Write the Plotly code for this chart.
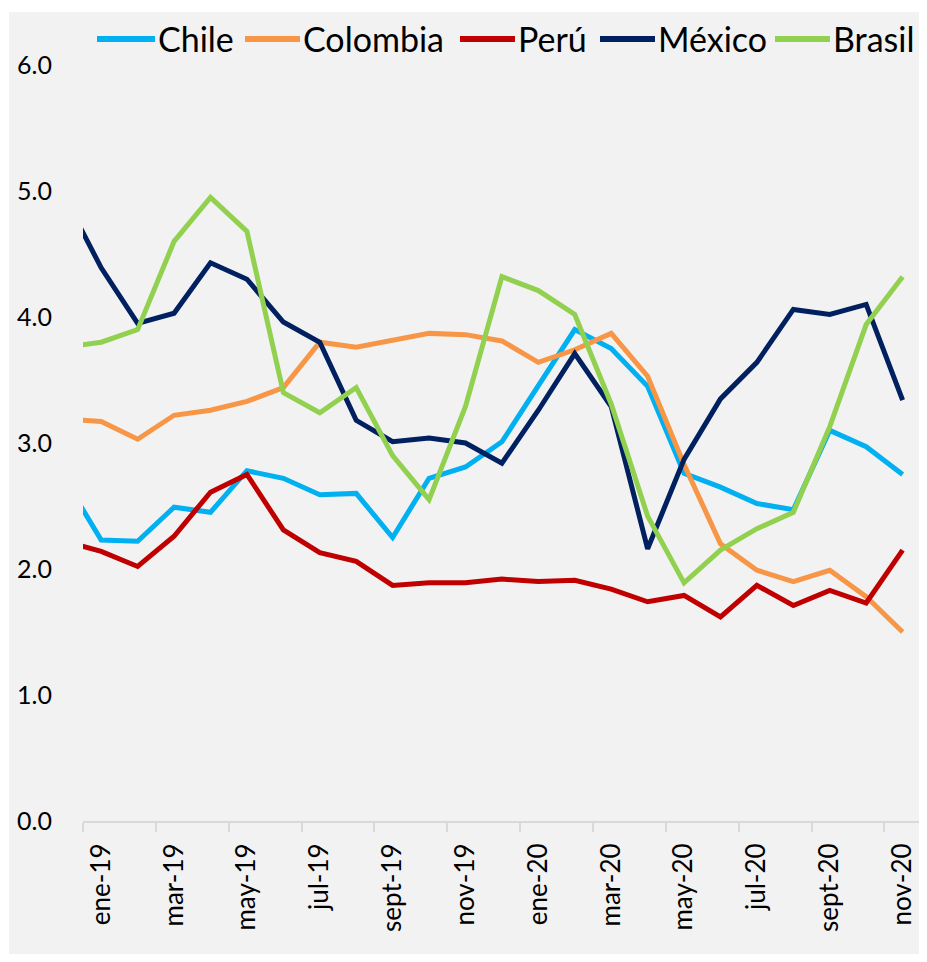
import numpy as np
import plotly.graph_objects as go

# Months (dic-18 is only partially visible at the left edge)
meses = ["dic-18", "ene-19", "feb-19", "mar-19", "abr-19", "may-19", "jun-19", "jul-19",
         "ago-19", "sept-19", "oct-19", "nov-19", "dic-19", "ene-20", "feb-20", "mar-20",
         "abr-20", "may-20", "jun-20", "jul-20", "ago-20", "sept-20", "oct-20", "nov-20"]

chile = [2.71, 2.23, 2.22, 2.49, 2.45, 2.78, 2.72, 2.59, 2.60, 2.25, 2.72, 2.81,
         3.01, 3.46, 3.90, 3.75, 3.45, 2.76, 2.65, 2.52, 2.47, 3.10, 2.97, 2.75]
colombia = [3.19, 3.17, 3.03, 3.22, 3.26, 3.33, 3.44, 3.80, 3.76, 3.82, 3.87, 3.86,
            3.81, 3.64, 3.74, 3.87, 3.53, 2.83, 2.20, 1.99, 1.90, 1.99, 1.78, 1.50]
peru = [2.22, 2.14, 2.02, 2.26, 2.61, 2.75, 2.31, 2.13, 2.06, 1.87, 1.89, 1.89,
        1.92, 1.90, 1.91, 1.84, 1.74, 1.79, 1.62, 1.87, 1.71, 1.83, 1.73, 2.15]
mexico = [4.95, 4.39, 3.95, 4.03, 4.43, 4.30, 3.96, 3.80, 3.18, 3.01, 3.04, 3.00,
          2.84, 3.26, 3.71, 3.29, 2.16, 2.87, 3.35, 3.64, 4.06, 4.02, 4.10, 3.34]
brasil = [3.76, 3.80, 3.90, 4.60, 4.95, 4.68, 3.40, 3.24, 3.44, 2.90, 2.55, 3.29,
          4.32, 4.21, 4.02, 3.31, 2.42, 1.89, 2.15, 2.32, 2.45, 3.13, 3.94, 4.32]

tick_labels = ["ene-19", "mar-19", "may-19", "jul-19", "sept-19", "nov-19",
               "ene-20", "mar-20", "may-20", "jul-20", "sept-20", "nov-20"]

nombres = ["Chile", "Colombia", "Perú", "México", "Brasil"]
valores = [chile, colombia, peru, mexico, brasil]
colores = ["#00B0F0", "#F79646", "#C00000", "#002060", "#92D050"]

x = np.arange(len(meses)) - 1  # ene-19 -> 0
tick_pos = [meses.index(t) - 1 for t in tick_labels]
minor_pos = [p - 0.5 for p in tick_pos]

FONT = "Lato, 'Open Sans', sans-serif"

# page is offset by the 8px body margin; keep the page free of overflow
OFF = 8
W, H = 911, 946
L, R, T, B = 83 - OFF, 0, 65 - OFF, H - (821 - OFF)
pw = W - L - R
ph = H - T - B


def px_x(page_x):
    return (page_x - OFF - L) / pw


def px_y(page_y):
    return ((H - B) - (page_y - OFF)) / ph


fig = go.Figure()
for name, vals, col in zip(nombres, valores, colores):
    fig.add_trace(go.Scatter(x=x, y=vals, name=name, mode="lines",
                             line=dict(color=col, width=5), showlegend=False))

fig.update_layout(
    width=W, height=H,
    margin=dict(l=L, r=R, t=T, b=B, autoexpand=False),
    paper_bgcolor="white",
    plot_bgcolor="#F2F2F2",
    font=dict(family=FONT, color="black"),
    xaxis=dict(range=[-0.5, 22.45], tickvals=tick_pos, ticktext=tick_labels,
               tickangle=-90, ticks="", showgrid=False, zeroline=False,
               showline=True, linecolor="#D9D9D9", linewidth=2,
               tickfont=dict(size=26, family=FONT),
               ticklabelstandoff=10, ticklabeloverflow="allow",
               minor=dict(tickvals=minor_pos, ticks="outside", ticklen=9,
                          tickcolor="#D9D9D9", tickwidth=2, showgrid=False)),
    yaxis=dict(range=[0, 6], dtick=1, tickformat=".1f", showgrid=False,
               zeroline=False, showline=False, ticks="",
               tickfont=dict(size=25, family=FONT), ticklabelstandoff=30),
)

# grey chart area (thin white frame at left/top as in the original)
fig.add_shape(type="rect", xref="paper", yref="paper", layer="below",
              x0=px_x(9), x1=1.0, y0=-B / ph, y1=px_y(12),
              fillcolor="#F2F2F2", line=dict(width=0))

# custom legend (long line samples like the original)
leg_lines = [(97, 155), (245, 300), (460, 515), (600, 655), (775, 830)]
leg_y = 39
for (x0, x1), name, col in zip(leg_lines, nombres, colores):
    fig.add_shape(type="line", xref="paper", yref="paper",
                  x0=px_x(x0), x1=px_x(x1), y0=px_y(leg_y), y1=px_y(leg_y),
                  line=dict(color=col, width=6))
    fig.add_annotation(xref="paper", yref="paper", x=px_x(x1 + 1), y=px_y(leg_y),
                       text=name, showarrow=False, xanchor="left", yanchor="middle",
                       font=dict(size=34, family=FONT, color="black"))

fig.write_html("out.html")
